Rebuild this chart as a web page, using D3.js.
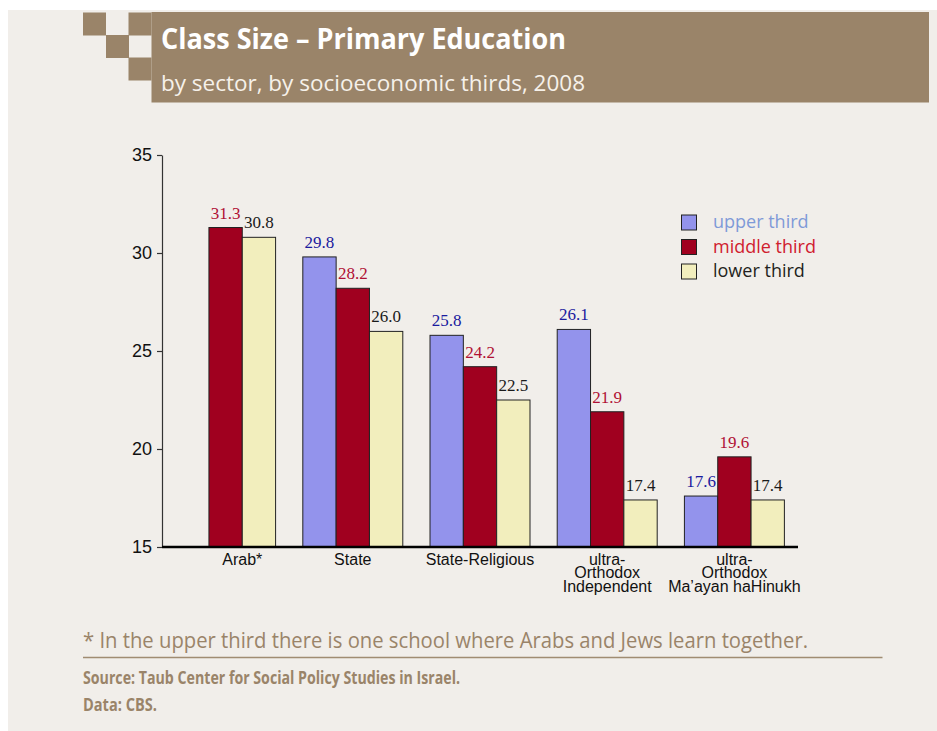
<!DOCTYPE html>
<html>
<head>
<meta charset="utf-8">
<script src="https://cdn.jsdelivr.net/npm/d3@7"></script>
<style>
  html, body { margin: 0; padding: 0; background: #ffffff; }
  svg { display: block; }
</style>
</head>
<body>
<svg id="chart" width="937" height="731"></svg>
<script>
// Class size in primary education, by sector and socioeconomic third (2008)
const sectors = [
  ["Arab*"],
  ["State"],
  ["State-Religious"],
  ["ultra-", "Orthodox", "Independent"],
  ["ultra-", "Orthodox", "Ma\u2019ayan haHinukh"]
];
const seriesNames = ["upper third", "middle third", "lower third"];
const upperThird  = [null, 29.8, 25.8, 26.1, 17.6];
const middleThird = [31.3, 28.2, 24.2, 21.9, 19.6];
const lowerThird  = [30.8, 26.0, 22.5, 17.4, 17.4];
const yTicks = [15, 20, 25, 30, 35];

const fills      = ["#9393ec", "#a0001f", "#f2eebd"];
const valueInk   = ["#1a1a9e", "#b01034", "#1a1a1a"];
const legendInk  = ["#7f9ad8", "#d0202e", "#231f20"];
const brown = "#9a8469";

const svg = d3.select("#chart");

// page panel
svg.append("rect").attr("x", 8).attr("y", 10).attr("width", 929).attr("height", 721)
  .attr("fill", "#f1eeea");

// header band and checker squares
svg.append("rect").attr("x", 151.5).attr("y", 12).attr("width", 777.5).attr("height", 90.5)
  .attr("fill", brown);
[[83, 12.5], [128.5, 12.5], [106, 35], [128.5, 57.5]].forEach(([x, y]) => {
  svg.append("rect").attr("x", x).attr("y", y).attr("width", 23).attr("height", 23)
    .attr("fill", brown);
});
svg.append("text").attr("x", 161).attr("y", 48.5)
  .attr("font-family", "'Open Sans', sans-serif").attr("font-weight", 700)
  .attr("font-size", 28).attr("fill", "#ffffff")
  .attr("textLength", 405).attr("lengthAdjust", "spacingAndGlyphs")
  .text("Class Size \u2013 Primary Education");
svg.append("text").attr("x", 161).attr("y", 90.5)
  .attr("font-family", "'Open Sans', sans-serif")
  .attr("font-size", 22).attr("fill", "#f6f1ea")
  .attr("textLength", 424).attr("lengthAdjust", "spacingAndGlyphs")
  .text("by sector, by socioeconomic thirds, 2008");

// scales
const x0 = d3.scaleBand().domain(d3.range(sectors.length))
  .range([162, 798]).paddingInner(0.214).paddingOuter(0.107);
const x1 = d3.scaleBand().domain(d3.range(seriesNames.length))
  .range([0, x0.bandwidth()]);
const y = d3.scaleLinear().domain([15, 35]).range([547, 155]);

// y axis
const yAxis = svg.append("g").attr("transform", "translate(162,0)")
  .call(d3.axisLeft(y).tickValues(yTicks).tickSize(5).tickPadding(5).tickSizeOuter(0));
yAxis.select(".domain").attr("stroke", "#333").attr("stroke-width", 1.2);
yAxis.selectAll(".tick line").attr("stroke", "#333").attr("stroke-width", 1.2);
yAxis.selectAll(".tick text")
  .attr("font-family", "'Liberation Sans', Arial, sans-serif")
  .attr("font-size", 18).attr("fill", "#111").attr("dy", "0.28em");

// bars
const table = [upperThird, middleThird, lowerThird];
const bars = [];
sectors.forEach((s, i) => {
  table.forEach((vals, k) => {
    if (vals[i] != null) bars.push({ i, k, v: vals[i] });
  });
});

const g = svg.append("g");
g.selectAll("rect.bar").data(bars).join("rect")
  .attr("class", "bar")
  .attr("x", d => x0(d.i) + x1(d.k))
  .attr("y", d => y(d.v))
  .attr("width", x1.bandwidth())
  .attr("height", d => y(15) - y(d.v))
  .attr("fill", d => fills[d.k])
  .attr("stroke", "#222").attr("stroke-width", 1);

g.selectAll("text.val").data(bars).join("text")
  .attr("class", "val")
  .attr("x", d => x0(d.i) + x1(d.k) + x1.bandwidth() / 2)
  .attr("y", d => y(d.v) - 9)
  .attr("text-anchor", "middle")
  .attr("font-family", "'Liberation Serif', 'Times New Roman', serif")
  .attr("font-size", 17)
  .attr("fill", d => valueInk[d.k])
  .text(d => d.v.toFixed(1));

// baseline
svg.append("line").attr("x1", 162).attr("x2", 798).attr("y1", y(15)).attr("y2", y(15))
  .attr("stroke", "#000").attr("stroke-width", 2.6);

// category labels, centred under the bars that are drawn
sectors.forEach((lines, i) => {
  const present = bars.filter(b => b.i === i);
  const cx = d3.mean(present, b => x0(b.i) + x1(b.k) + x1.bandwidth() / 2);
  const t = svg.append("text")
    .attr("text-anchor", "middle")
    .attr("font-family", "'Liberation Sans', Arial, sans-serif")
    .attr("font-size", 16).attr("fill", "#111");
  lines.forEach((ln, j) => {
    t.append("tspan").attr("x", cx).attr("y", 564.5 + j * 13.5).text(ln);
  });
});

// legend
seriesNames.forEach((name, k) => {
  const yy = 215 + k * 24.5;
  svg.append("rect").attr("x", 681.5).attr("y", yy).attr("width", 15).attr("height", 15)
    .attr("fill", fills[k]).attr("stroke", "#222").attr("stroke-width", 1);
  svg.append("text").attr("x", 713).attr("y", yy + 13)
    .attr("font-family", "'Open Sans', sans-serif").attr("font-size", 18)
    .attr("fill", legendInk[k])
    .text(name);
});

// footnote and source
svg.append("text").attr("x", 83).attr("y", 648)
  .attr("font-family", "'Open Sans', sans-serif").attr("font-size", 21)
  .attr("fill", brown)
  .attr("textLength", 725).attr("lengthAdjust", "spacingAndGlyphs")
  .text("* In the upper third there is one school where Arabs and Jews learn together.");
svg.append("line").attr("x1", 83).attr("x2", 882.5).attr("y1", 657.5).attr("y2", 657.5)
  .attr("stroke", "#a08c72").attr("stroke-width", 1.6);
svg.append("text").attr("x", 83).attr("y", 683.5)
  .attr("font-family", "'Open Sans', sans-serif").attr("font-weight", 700).attr("font-size", 18)
  .attr("fill", brown)
  .attr("textLength", 377).attr("lengthAdjust", "spacingAndGlyphs")
  .text("Source: Taub Center for Social Policy Studies in Israel.");
svg.append("text").attr("x", 83).attr("y", 711)
  .attr("font-family", "'Open Sans', sans-serif").attr("font-weight", 700).attr("font-size", 18)
  .attr("fill", brown)
  .attr("textLength", 74).attr("lengthAdjust", "spacingAndGlyphs")
  .text("Data: CBS.");
</script>
</body>
</html>
